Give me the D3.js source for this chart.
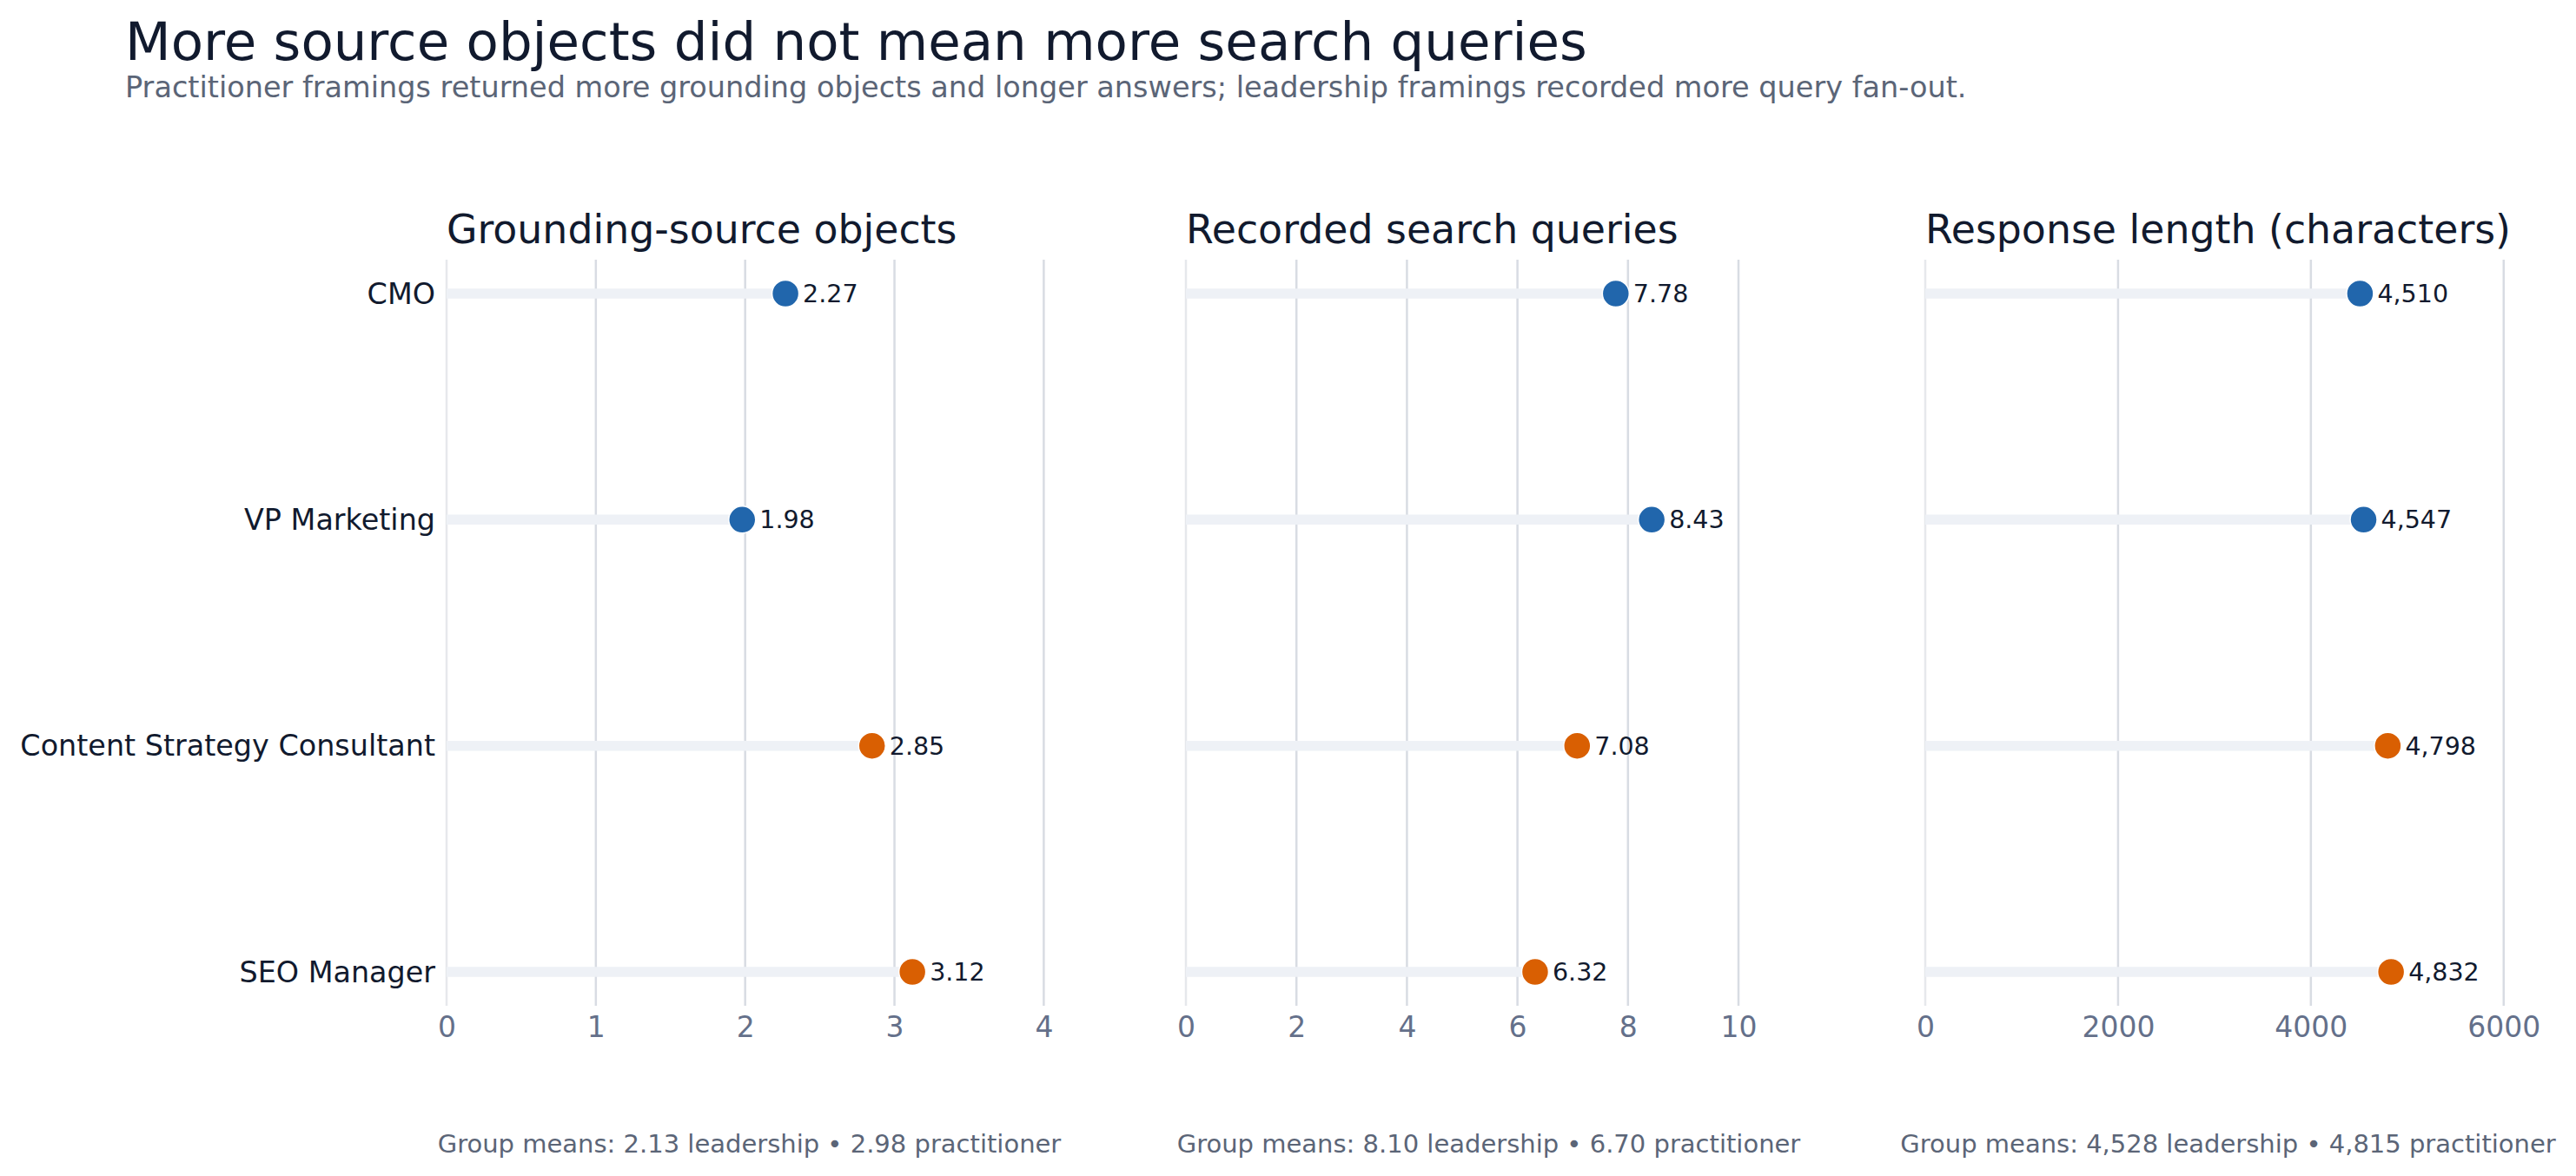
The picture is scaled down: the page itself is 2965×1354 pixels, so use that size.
<!DOCTYPE html>
<html><head><meta charset="utf-8">
<script src="https://cdn.jsdelivr.net/npm/d3@7"></script>
<style>html,body{margin:0;padding:0;background:#fff;}svg{display:block;font-family:"DejaVu Sans",sans-serif;}</style>
</head><body>
<svg id="chart" width="2965" height="1354"></svg>
<script>
const roles = ["CMO", "VP Marketing", "Content Strategy Consultant", "SEO Manager"];
const groups = ["leadership", "leadership", "practitioner", "practitioner"];
const groundingObjects = [2.27, 1.98, 2.85, 3.12];
const searchQueries = [7.78, 8.43, 7.08, 6.32];
const responseLength = [4510, 4547, 4798, 4832];
const panelTitles = ["Grounding-source objects", "Recorded search queries", "Response length (characters)"];
const panelTicks = [[0,1,2,3,4],[0,2,4,6,8,10],[0,2000,4000,6000]];
const groupMeans = [
  "Group means: 2.13 leadership \u2022 2.98 practitioner",
  "Group means: 8.10 leadership \u2022 6.70 practitioner",
  "Group means: 4,528 leadership \u2022 4,815 practitioner"
];
const valueFormats = [".2f", ".2f", ",.0f"];
const seriesList = [groundingObjects, searchQueries, responseLength];

(function () {
const colors = {leadership: "#2166ac", practitioner: "#d95f02"};
const svg = d3.select("#chart");

svg.append("text").attr("x", 144).attr("y", 69).attr("font-size", 61)
  .attr("fill", "#111a2e").text("More source objects did not mean more search queries");
svg.append("text").attr("x", 144).attr("y", 112).attr("font-size", 33.5)
  .attr("fill", "#5b6577").text("Practitioner framings returned more grounding objects and longer answers; leadership framings recorded more query fan-out.");

const panelW = 697, gap = 154, left0 = 514, plotTop = 299, plotBottom = 1158;
const y = d3.scalePoint().domain(roles).range([plotTop, plotBottom]).padding(0.15);

seriesList.forEach((vals, p) => {
  const x0 = left0 + p * (panelW + gap);
  const g = svg.append("g").attr("transform", `translate(${x0},0)`);
  const x = d3.scaleLinear().domain([0, d3.max(vals) * 1.3]).range([0, panelW]);

  g.append("text").attr("x", 0).attr("y", 280).attr("font-size", 45.8)
    .attr("fill", "#111a2e").text(panelTitles[p]);

  g.selectAll("line.grid").data(panelTicks[p]).join("line").attr("class", "grid")
    .attr("x1", d => x(d)).attr("x2", d => x(d)).attr("y1", plotTop).attr("y2", plotBottom)
    .attr("stroke", d => d === 0 ? "#e6e8ec" : "#d8dce3").attr("stroke-width", 2.5);

  const axis = d3.axisBottom(x).tickValues(panelTicks[p]).tickFormat(d3.format("d")).tickSize(0).tickPadding(0);
  const ax = g.append("g").attr("transform", `translate(0,${plotBottom})`).call(axis);
  ax.select(".domain").remove();
  ax.selectAll("text").attr("font-size", 33).attr("fill", "#64708a")
    .attr("font-family", "DejaVu Sans").attr("dy", null).attr("y", 36);

  g.selectAll("line.track").data(vals).join("line").attr("class", "track")
    .attr("x1", x(0)).attr("x2", d => x(d))
    .attr("y1", (d, i) => y(roles[i])).attr("y2", (d, i) => y(roles[i]))
    .attr("stroke", "#eef1f6").attr("stroke-width", 11.5);

  g.selectAll("circle.dot").data(vals).join("circle").attr("class", "dot")
    .attr("cx", d => x(d)).attr("cy", (d, i) => y(roles[i])).attr("r", 15.5)
    .attr("fill", (d, i) => colors[groups[i]]).attr("stroke", "#fff").attr("stroke-width", 1.5);

  const fmt = d3.format(valueFormats[p]);
  g.selectAll("text.val").data(vals).join("text").attr("class", "val")
    .attr("x", d => x(d) + 20).attr("y", (d, i) => y(roles[i])).attr("dy", "0.35em")
    .attr("font-size", 28.5).attr("fill", "#111a2e").text(d => fmt(d));

  g.append("text").attr("x", panelW / 2).attr("y", 1327).attr("text-anchor", "middle")
    .attr("font-size", 29).attr("fill", "#5b6577").text(groupMeans[p]);
});

svg.append("g").selectAll("text").data(roles).join("text")
  .attr("x", 501).attr("y", d => y(d)).attr("dy", "0.35em").attr("text-anchor", "end")
  .attr("font-size", 33.4).attr("fill", "#111a2e").text(d => d);
})();
</script>
</body></html>
